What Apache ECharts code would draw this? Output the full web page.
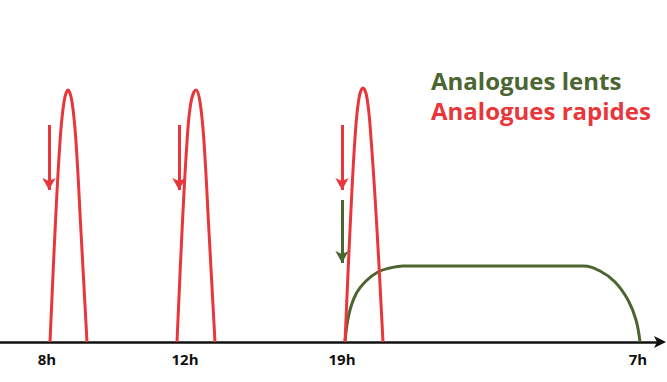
<!DOCTYPE html>
<html>
<head>
<meta charset="utf-8">
<script src="https://cdn.jsdelivr.net/npm/echarts@6/dist/echarts.min.js"></script>
<style>
  html, body { margin: 0; padding: 0; background: #fff; }
  #chart { width: 667px; height: 382px; }
</style>
</head>
<body>
<div id="chart"></div>
<script>
// x in position units along the time axis, y in effect height
var tickPos = [47, 185, 342, 638];
var tickNames = ['8h', '12h', '19h', '7h'];

var rapidPeak8 = [[50, 0], [55, 110], [60, 200], [64, 240], [68, 252], [72, 240], [76, 200], [81, 110], [87, 0]];
var rapidPeak12 = [[177, 0], [182, 110], [187, 200], [191, 240], [196, 252], [200, 240], [204, 200], [209, 110], [215, 0]];
var rapidPeak19 = [[345, 0], [350, 112], [355, 204], [359, 244], [363, 254], [367, 244], [371, 204], [377, 112], [383, 0]];
var slowCurve = [[345, 0], [349, 28], [356, 48], [366, 61], [378, 70], [390, 74], [403, 76], [583, 76], [600, 71], [615, 60], [628, 42], [636, 22], [640, 0]];

// injection arrows: [x, from, to]
var rapidArrows = [[49, 217, 152], [179, 217, 152], [342, 217, 152]];
var slowArrows = [[342, 142, 79]];

var red = '#e8363a';
var green = '#4b6631';

function arrowLines(list) {
  return list.map(function(a) {
    return [{ coord: [a[0], a[1]] }, { coord: [a[0], a[2]] }];
  });
}

var chart = echarts.init(document.getElementById('chart'), null, { renderer: 'svg' });
chart.setOption({
  animation: false,
  grid: { left: 0, right: 7, top: 42, bottom: 40 },
  legend: {
    orient: 'vertical',
    left: 421,
    top: 63,
    itemWidth: 0,
    itemHeight: 0,
    itemGap: 6,
    icon: 'none',
    selectedMode: false,
    textStyle: { fontFamily: 'Open Sans', fontWeight: 'bold', fontSize: 24 },
    data: [
      { name: 'Analogues lents', textStyle: { color: green } },
      { name: 'Analogues rapides', textStyle: { color: red } }
    ]
  },
  xAxis: {
    type: 'value',
    min: 0,
    max: 660,
    splitLine: { show: false },
    axisLine: {
      show: true,
      lineStyle: { color: '#111', width: 2.5 },
      symbol: ['none', 'arrow'],
      symbolSize: [9, 12],
      symbolOffset: [0, 6]
    },
    axisTick: { show: false },
    axisLabel: {
      customValues: tickPos,
      formatter: function(v) { return tickNames[tickPos.indexOf(v)]; },
      color: '#111',
      fontFamily: 'Open Sans',
      fontWeight: 'bold',
      fontSize: 15,
      margin: 9
    }
  },
  yAxis: {
    type: 'value',
    min: 0,
    max: 300,
    show: false,
    splitLine: { show: false }
  },
  series: [
    {
      name: 'Analogues lents', type: 'line', data: slowCurve, smooth: 0.4,
      showSymbol: false, lineStyle: { color: green, width: 3 }, itemStyle: { color: green },
      z: 2,
      markLine: {
        silent: true, symbol: ['none', 'arrow'], symbolSize: [10, 12],
        label: { show: false },
        lineStyle: { color: green, width: 3, type: 'solid' },
        data: arrowLines(slowArrows)
      }
    },
    {
      name: 'Analogues rapides', type: 'line', data: rapidPeak8, smooth: 0.4,
      showSymbol: false, lineStyle: { color: red, width: 3 }, itemStyle: { color: red },
      z: 3,
      markLine: {
        silent: true, symbol: ['none', 'arrow'], symbolSize: [10, 12],
        label: { show: false },
        lineStyle: { color: red, width: 3, type: 'solid' },
        data: arrowLines(rapidArrows)
      }
    },
    {
      name: 'Analogues rapides', type: 'line', data: rapidPeak12, smooth: 0.4,
      showSymbol: false, lineStyle: { color: red, width: 3 }, itemStyle: { color: red }, z: 3
    },
    {
      name: 'Analogues rapides', type: 'line', data: rapidPeak19, smooth: 0.4,
      showSymbol: false, lineStyle: { color: red, width: 3 }, itemStyle: { color: red }, z: 3
    }
  ]
});
window.addEventListener('resize', function() { chart.resize(); });
</script>
</body>
</html>
